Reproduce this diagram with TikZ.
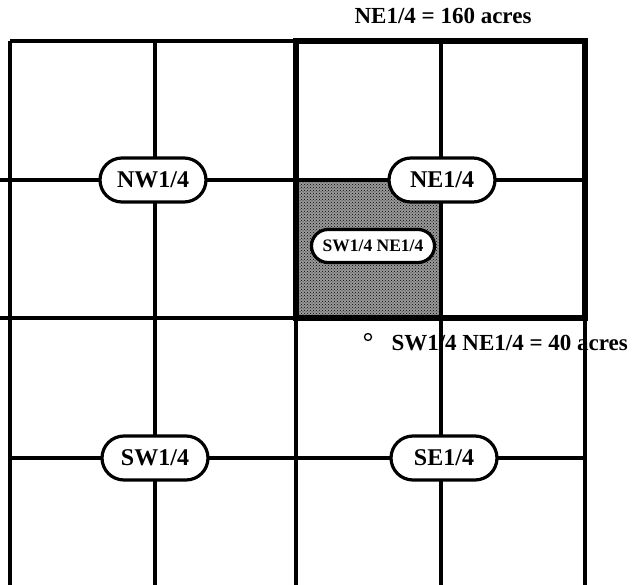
\documentclass[tikz,border=0pt]{standalone}
\usepackage{fontspec}
\setmainfont{Liberation Serif}
\usetikzlibrary{shapes.misc,patterns}
\begin{document}
\begin{tikzpicture}[x=1pt,y=-1pt,
  grid/.style={line width=3.2pt},
  quarter/.style={draw,line width=3.2pt,fill=white,rounded rectangle,inner sep=2pt,
    minimum width=110pt,minimum height=44pt,font=\bfseries\fontsize{24}{26}\selectfont}]
  \useasboundingbox (0,0) rectangle (634,585);
  % shaded quarter-quarter
  \fill[black!40] (296,180) rectangle (441,318);
  \fill[pattern=crosshatch dots,pattern color=black] (296,180) rectangle (441,318);
  % section grid
  \foreach \x in {10,155,296,441,585} \draw[grid] (\x,41) -- (\x,585);
  \draw[grid] (10,41) -- (585,41);
  \draw[grid] (0,180) -- (585,180);
  \draw[grid] (0,318) -- (585,318);
  \draw[grid] (10,458) -- (585,458);
  % NE quarter outline
  \draw[line width=6pt] (296,41) rectangle (585,318);
  % quarter labels
  \node[quarter] (nw) at (153,180) {NW1/4};
  \node[quarter] (ne) at (442,180) {NE1/4};
  \node[quarter] (sw) at (155,458) {SW1/4};
  \node[quarter] (se) at (444,458) {SE1/4};
  \node[quarter,minimum width=127pt,minimum height=33pt,font=\bfseries\fontsize{17.5}{19}\selectfont] (swne) at (373,246) {SW1/4 NE1/4};
  % notes
  \node[font=\bfseries\fontsize{23}{25}\selectfont] (title) at (443,16) {NE1/4 = 160 acres};
  \node[font=\bfseries\fontsize{23}{25}\selectfont,anchor=west] (note) at (388,343) {SW1/4 NE1/4 = 40 acres};
  \draw[line width=1.3pt] (368,337) circle (3.5pt);
\end{tikzpicture}
\end{document}
